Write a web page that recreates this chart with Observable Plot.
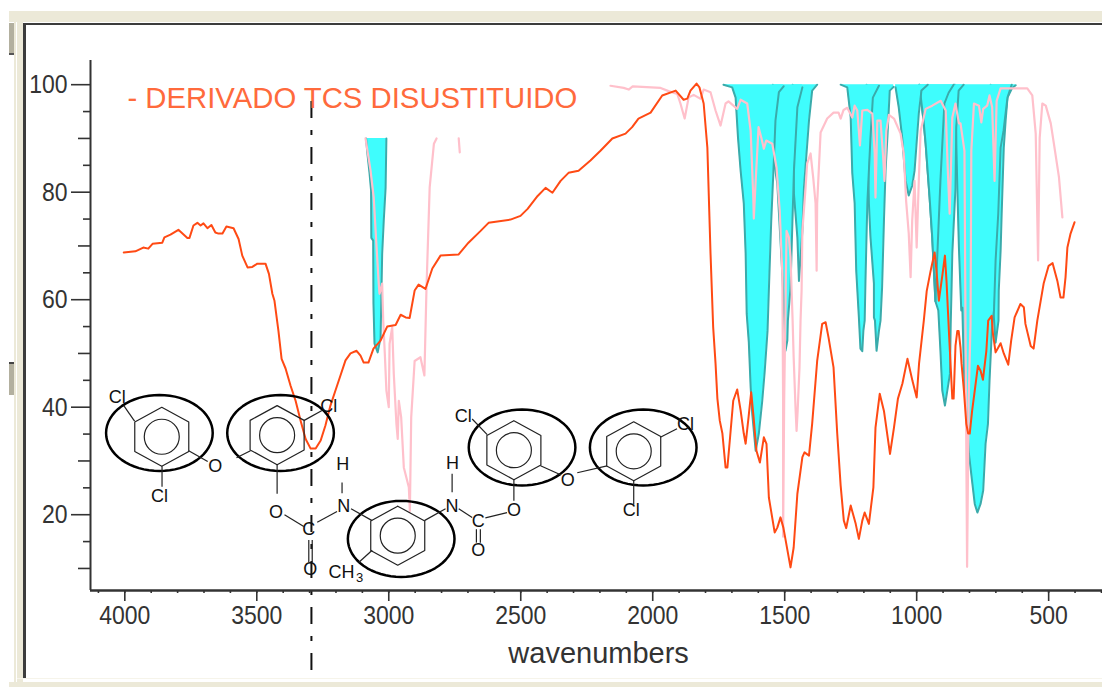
<!DOCTYPE html>
<html>
<head>
<meta charset="utf-8">
<script src="https://cdn.jsdelivr.net/npm/d3@7"></script>
<script src="https://cdn.jsdelivr.net/npm/@observablehq/plot@0.6"></script>
<style>
html,body{margin:0;padding:0;background:#fff;overflow:hidden}
#page{position:relative;width:1102px;height:687px}
#page svg{position:absolute;left:0;top:0;background:transparent}
.c{position:absolute}
</style>
</head>
<body>
<div id="page"></div>
<script>
// Orange sample spectrum: [wavenumber, %T]
const sampleNearIR = [[4004,68.8],[3960,69],[3930,69.7],[3911,69.5],[3895,70.4],[3858,70.6],[3850,71.6],[3827,72.1],[3797,73],[3763,71.5],[3755,71.5],[3740,73.8],[3725,74.3],[3713,73.8],[3702,74.2],[3687,73.3],[3672,73.9],[3657,72.5],[3645,72.3],[3630,72.3],[3615,73.6],[3588,73.3],[3569,71.3],[3555,68.2],[3535,66],[3517,66.1],[3498,66.7],[3467,66.7],[3454,64.8],[3441,61.1],[3433,59.8],[3418,54.2],[3406,49],[3391,47.2],[3372,44],[3353,41.2],[3334,37.5],[3315,34.1],[3296,32.3],[3277,32.3],[3258,33.8],[3240,36.6],[3221,40.3],[3202,43.1],[3183,45.9],[3164,48.7],[3145,50],[3122,50.5],[3107,49.6],[3095,48.3],[3077,48.3]];
const sampleMid = [[3058,50.9],[3031,52.4],[3006,55],[2974,55.3],[2955,57.2],[2936,56.7],[2921,56.6],[2902,61.7],[2887,62.8],[2861,62],[2835,65.8],[2804,68.2],[2736,68.4],[2698,70.6],[2652,72.8],[2622,74.3],[2595,74.5],[2539,74.9],[2501,75.6],[2474,76.9],[2436,79.3],[2406,80.8],[2380,79.9],[2349,82.1],[2319,83.6],[2281,84],[2236,85.9],[2198,87.7],[2153,90],[2103,90.9],[2078,92.1],[2054,93.7],[2008,94.8],[1964,98],[1913,98.9],[1883,97.2],[1869,97.4],[1857,98.9],[1834,100.2],[1823,99.5],[1807,96.5],[1793,88.3],[1781,68.6],[1771,54.9]];
const sampleCarbonyl = [[1762,48.1],[1755,41.6],[1746,37.5],[1736,35.1],[1724,28.8],[1717,28.8],[1708,33.8],[1695,41.2],[1680,43.3],[1667,39.4],[1655,35.1],[1648,33.2],[1637,38.1],[1627,42.8],[1618,38.2],[1607,31.9],[1594,29.7],[1579,34.4],[1569,33.2],[1560,23.2],[1538,16.7],[1528,17.6],[1516,19.5],[1505,17.6],[1478,10.2],[1466,13.9],[1452,23.9],[1433,30.7],[1425,31.6],[1408,31],[1396,36.9],[1377,48.6],[1358,55.5],[1345,55.8],[1334,53],[1315,47.4],[1301,35.1],[1288,25.4],[1276,18.9],[1267,17.5],[1250,21.7],[1231,18.3],[1219,15.5],[1206,18.9],[1197,20.4],[1181,18.3],[1164,25.1],[1156,36.2],[1140,42.5],[1124,39.3],[1101,31.3],[1086,36.2],[1071,41.6],[1054,44.4],[1035,49],[1016,44.9],[1000,41.8]];
const sampleFinger = [[991,48.1],[973,56.1],[962,61.6],[947,65.4],[932,68.8],[925,65.4],[916,59.8],[902,64.8],[893,68.2],[887,63.5],[878,54.2],[865,41.6],[860,41.6],[853,51.4],[846,54.2],[841,54.2],[834,51.1],[830,48.1],[821,43.1],[812,36.9],[805,35.1],[799,35.1],[790,39.3],[780,43.1],[768,47.7],[758,46.8],[749,45.1],[736,50.5],[729,56.1],[716,57],[711,53.7],[701,50.2],[682,51.9],[670,50],[653,47.9],[642,52.4],[629,56.7],[607,59.2],[594,58.6],[588,55.5],[568,51.4],[557,50.9],[543,56.1],[519,63],[500,66.3],[485,66.8],[467,63.5],[455,60.4],[444,60.4],[436,64.2],[429,69.7],[417,72.3],[402,74.4]];
const sampleSpectrum = [...sampleNearIR, ...sampleMid, ...sampleCarbonyl, ...sampleFinger];

// Pink second spectrum
const pinkCH = [[3088,90],[3069,84],[3057,79],[3047,70.4],[3038,63],[3035,61.1],[3025,63],[3021,56.1],[3015,50],[3009,43.1],[3000,40],[2997,51.8],[2987,54.9],[2981,46.2],[2971,36.9],[2966,34.1],[2962,41.2],[2953,38.1],[2943,28.8],[2924,25.1],[2920,20.7],[2915,38.1],[2902,48.6],[2880,49.3],[2865,45.9],[2857,62.3],[2845,80.9],[2829,89],[2819,90]];
const pinkFragment = [[2735,90],[2731,87.4]];
const pinkLow = [[2160,99.8],[2110,99.4],[2091,99.1],[2076,99.7],[1970,99.4],[1940,98.8],[1907,98.3],[1895,96.5],[1879,93.7],[1864,97.6],[1845,98.1],[1819,97.4],[1807,99.1],[1781,98.6],[1762,95.2],[1743,92.4],[1724,96.5],[1713,96.9],[1680,95.5],[1667,97.2],[1642,96.5],[1629,91.4],[1619,79],[1617,75.1],[1610,82.1],[1599,92.1],[1589,90.2],[1579,88.1],[1570,89.6],[1547,89],[1531,84.6],[1519,76.6],[1509,64.8],[1506,41.2],[1506,15.9],[1502,41.2],[1493,72.8],[1484,71.6],[1478,67.9],[1470,56.1],[1466,49.2],[1459,39.9],[1455,35.6],[1451,39.3],[1444,47.3],[1440,56.1],[1436,61.7],[1433,72.8],[1421,80.8],[1415,85.3],[1402,87.2],[1392,82.7],[1383,77.9],[1380,68.6],[1379,65.4],[1377,77.9],[1364,91.1],[1339,93.7],[1315,94.8],[1296,94.8],[1288,93.7],[1277,95.3],[1263,95.7],[1244,93.9],[1235,96.1],[1225,95.2],[1215,88.7],[1206,95.2],[1187,95.3],[1168,94.6],[1159,87.2],[1156,79],[1149,93.3],[1137,93.3],[1127,86.5],[1122,82.1],[1115,91.4],[1105,94.4],[1086,93.7],[1061,90.9],[1049,87.2],[1040,78.4],[1030,72.3],[1023,64.2],[1017,74.7],[1008,82.1],[1000,69.7],[992,82.1],[985,91.4],[966,95.5],[941,96.1],[909,97],[890,95.2],[882,84],[875,76],[865,93.9],[853,96.5],[840,92.8],[834,92.8],[819,87.7],[815,54.8],[809,10.3],[803,41.2],[796,55.5],[793,87.7],[783,96.5],[764,96.1],[755,93],[748,95.5],[733,96.1],[724,98],[714,95.8],[705,82.1],[697,97],[682,99.3],[633,99.3],[581,99.3],[562,98],[549,90.9],[540,67.3],[534,90.1],[524,96.5],[511,96.1],[492,92.8],[480,89],[461,82.8],[448,75.3]];

// Cyan reference bands, each hanging from its own top value
const bandCH = [[3086,90],[3081,87.2],[3073,83.6],[3067,80.3],[3066,71.5],[3059,71],[3058,59.3],[3054,51.8],[3042,50.2],[3031,52.9],[3025,68.5],[3019,74.7],[3012,80.8],[3009,90]];
const band1610 = [[1732,100],[1699,99.5],[1686,97.6],[1677,90.2],[1667,84],[1655,77.9],[1648,68.6],[1644,57.4],[1636,52.1],[1629,43.7],[1623,38.8],[1610,31.9],[1598,35.1],[1585,41.2],[1576,46.5],[1565,54.2],[1560,61.7],[1551,74.7],[1541,85.9],[1535,93.3],[1522,98.6],[1504,99.7]];
const band1497 = [[1545,100],[1541,85.9],[1528,81.6],[1509,64.8],[1504,59.3],[1497,50.5],[1490,52.4],[1488,56.1],[1478,62.2],[1471,74.1],[1465,84],[1452,95.8],[1433,99.5]];
const band1446 = [[1470,100],[1465,79.7],[1452,71.6],[1446,63.5],[1433,72.8],[1427,80.9],[1408,93.3],[1396,98.9],[1377,100]];
const band1206 = [[1288,100],[1263,99.5],[1250,93.9],[1244,83.6],[1235,77.9],[1229,65.4],[1219,56.7],[1213,50.9],[1206,50.4],[1202,54.2],[1197,56.1],[1194,63.5],[1187,77.9],[1175,90.2],[1166,97.6],[1143,99.8]];
const band1152 = [[1190,100],[1181,77.9],[1175,71.6],[1162,63],[1162,56.7],[1158,56.1],[1152,50.5],[1143,54.2],[1137,56.1],[1131,62.3],[1124,74.7],[1118,84],[1111,90.2],[1102,98.9],[1087,99.6]];
const band1030 = [[1080,99.5],[1068,95.8],[1055,90.2],[1042,82.1],[1030,79.4],[1017,81.2],[1008,84],[992,94.6],[982,98.9],[958,100]];
const band929 = [[990,100],[974,93.3],[966,89],[951,79],[941,71.5],[929,59.7],[918,72.8],[910,82.1],[895,96.5],[879,98.5],[860,100]];
const band893 = [[990,100],[974,93.3],[966,89],[951,79],[941,71.5],[929,59.7],[918,58],[910,50.5],[903,43.1],[893,40.3],[884,43.1],[874,46.2],[871,55.5],[868,61.7],[865,68.6],[853,80.8],[850,92.1],[841,98.9],[822,100]];
const band770 = [[855,100],[846,80.8],[840,69.7],[831,58],[827,58.5],[821,46.8],[802,31.3],[789,25.8],[780,22],[770,20.4],[758,22],[748,24.5],[739,33.2],[730,36.9],[724,44.9],[714,55.5],[707,58],[701,67.3],[691,76],[682,88.3],[671,91.4],[656,97.6],[640,100]];
const band701 = [[720,100],[712,60],[701,52],[690,56.1],[689,61.7],[682,69.1],[678,76],[670,88.3],[663,93.3],[656,97.6],[638,99.4],[625,99.9]];
const bandTopValues = [100,100,100,100,100,100,100,100,100,100,90];
const bandsBackToFront = [band701,band770,band893,band929,band1030,band1152,band1206,band1446,band1497,band1610,bandCH];

// Axis tick values
const xMajor = [4000,3500,3000,2500,2000,1500,1000,500];
const xMinor = d3.range(300,4200,100);
const yMajor = [100,80,60,40,20];
const yMid = [90,70,50,30,10];
const yMinor = [95,85,75,65,55,45,35,25,15];

// Structural formula drawn in the plot's data units
const ringOvals = [[3869,35.2],[3410,35.2],[2953,15.5],[2495,32.5],[2036,32.5]];
const ringHexes = [[3860,34.5],[3423,34.8],[2966,16.1],[2526,32],[2072,31.8]];
const bonds = [[3963,37.4,4004,40.3],[3859,29,3859,25.2],[3758,31.9,3686,29.9],[3577,30.6,3524,31.9],[3322,37.5,3253,39.4],[3423,29.4,3423,23.9],[3395,20,3322,17.8],[3271,18.6,3196,20.6],[3177,26,3177,24],[3143,21.1,3063,18.9],[3303,15.3,3303,11.1],[3290,15.3,3290,11.1],[3063,13.4,3114,11.1],[2865,18.9,2785,21.1],[2760,27.6,2760,24.2],[2735,21.1,2684,19.5],[2634,19.4,2552,20.4],[2526,26.6,2526,22.6],[2668,17.3,2668,14.8],[2653,17.3,2653,14.8],[2684,37.8,2627,34.9],[2425,29.1,2347,27.4],[2286,27.8,2173,29.1],[1971,34.4,1908,36],[2072,26.3,2072,21.9]];
const atoms = [["Cl",4029,41.8],["Cl",3869,23.4],["O",3657,29],["Cl",3227,40.2],["O",3427,20.4],["C",3303,17.3],["H",3174,29.3],["N",3171,21.5],["O",3297,9.8],["CH",3179,9.3],["H",2759,29.5],["N",2760,21.5],["C",2661,18.7],["O",2526,20.9],["O",2661,13.3],["Cl",2718,38.4],["O",2322,26.4],["Cl",1876,36.9],["Cl",2081,20.8]];
const subscript = [["3",3110,8.2]];

const ink = "#333";
const fnt = "Liberation Sans, Arial, sans-serif";
const ovalRx = 202, ovalRy = 7.07, hexRx = 102.3, hexRy = 5.49;
const ovalPath = ([cx,cy]) => d3.range(0,65).map(i => {
  const a = i/64*2*Math.PI;
  return [cx+ovalRx*Math.cos(a), cy+ovalRy*Math.sin(a)];
});
const hexPath = ([cx,cy]) => [[0,1],[1,.5],[1,-.5],[0,-1],[-1,-.5],[-1,.5],[0,1]].map(([a,b]) => [cx+a*hexRx, cy+b*hexRy]);
const px = d => d[0], py = d => d[1];

const bandMarks = bandsBackToFront.flatMap((b,i) => [
  Plot.areaY(b,{x:px,y1:py,y2:()=>bandTopValues[i],fill:"#3ffdfd"}),
  Plot.line(b,{x:px,y:py,stroke:"#3aabab",strokeWidth:2,curve:"linear"})
]);

const chart = Plot.plot({
  width:1102,height:687,
  marginLeft:90,marginRight:0,marginTop:60,marginBottom:97,
  style:{background:"transparent",fontFamily:fnt},
  x:{domain:[4130,296],range:[90,1102],label:null},
  y:{domain:[5.9,104.5],range:[590,60],label:null},
  marks:[
    ...bandMarks,
    Plot.line(pinkCH,{x:px,y:py,stroke:"#ffc0cb",strokeWidth:2.2}),
    Plot.line(pinkFragment,{x:px,y:py,stroke:"#ffc0cb",strokeWidth:2.2}),
    Plot.line(pinkLow,{x:px,y:py,stroke:"#ffc0cb",strokeWidth:2.2}),
    Plot.line(sampleSpectrum,{x:px,y:py,stroke:"#ff4a14",strokeWidth:2}),
    Plot.ruleX([3293],{y1:-9,y2:98.3,stroke:"#111",strokeWidth:2,strokeDasharray:"17,12,5,12"}),
    Plot.ruleX([4130],{stroke:ink,strokeWidth:2}),
    Plot.ruleY([5.9],{stroke:ink,strokeWidth:2.5}),
    Plot.axisY({ticks:yMajor,tickSize:19,tickPadding:4,fontSize:23,fill:ink,stroke:ink,strokeWidth:1.6,label:null}),
    Plot.axisY({ticks:yMid,tickSize:12,text:null,stroke:ink,strokeWidth:1.6,label:null}),
    Plot.axisY({ticks:yMinor,tickSize:7,text:null,stroke:ink,strokeWidth:1.6,label:null}),
    Plot.axisX({ticks:xMajor,tickSize:11,tickPadding:4,fontSize:23,fill:ink,stroke:ink,strokeWidth:1.6,label:null,tickFormat:d=>String(d)}),
    Plot.axisX({ticks:xMinor,tickSize:3,text:null,stroke:ink,strokeWidth:1.6,label:null}),
    Plot.text(["- DERIVADO TCS DISUSTITUIDO"],{x:()=>3990,y:()=>97.4,textAnchor:"start",fontSize:29.3,fill:"#ff6a3c",fontFamily:fnt}),
    Plot.text(["wavenumbers"],{x:()=>2205,y:()=>-5.9,fontSize:29,fill:ink,fontFamily:fnt}),
    ...ringOvals.map(c => Plot.line(ovalPath(c),{x:px,y:py,stroke:"#000",strokeWidth:2.5})),
    ...ringHexes.map(c => Plot.line(hexPath(c),{x:px,y:py,stroke:"#222",strokeWidth:1.2})),
    Plot.dot(ringHexes,{x:px,y:py,r:17.5,stroke:"#222",strokeWidth:1.2,fill:"none"}),
    Plot.link(bonds,{x1:d=>d[0],y1:d=>d[1],x2:d=>d[2],y2:d=>d[3],stroke:"#222",strokeWidth:1.2}),
    Plot.text(atoms,{x:d=>d[1],y:d=>d[2],text:d=>d[0],fontSize:18,fill:"#111",fontFamily:fnt}),
    Plot.text(subscript,{x:d=>d[1],y:d=>d[2],text:d=>d[0],fontSize:13,fill:"#111",fontFamily:fnt})
  ]
});
const page = document.getElementById("page");
page.appendChild(chart);

// The tick labels are drawn slightly taller than wide in the source window
d3.select(chart).selectAll('[aria-label$="tick label"] text').each(function(){
  const t = this.getAttribute("transform");
  if (t) this.setAttribute("transform", t + " scale(1,1.14)");
});

// Window chrome surrounding the plot area
const beige = "#ece9d8";
[
  [9,11,1093,11,beige],[14,11,2,671,beige],[17,11,6,671,beige],
  [23,23,1079,2,"#3c3c3c"],[23,23,3,655,"#3c3c3c"],
  [9,682,1093,5,beige],[17,678,1085,1,"#f6f4ea"],
  [9,23,5,32,"#b3b09f"],[9,53,5,2,"#555"],
  [9,362,5,33,"#b3b09f"],[9,362,5,2,"#444"]
].forEach(([l,t,w,h,c]) => {
  const d = document.createElement("div");
  d.className = "c";
  d.style.cssText = `left:${l}px;top:${t}px;width:${w}px;height:${h}px;background:${c}`;
  page.appendChild(d);
});
</script>
</body>
</html>
